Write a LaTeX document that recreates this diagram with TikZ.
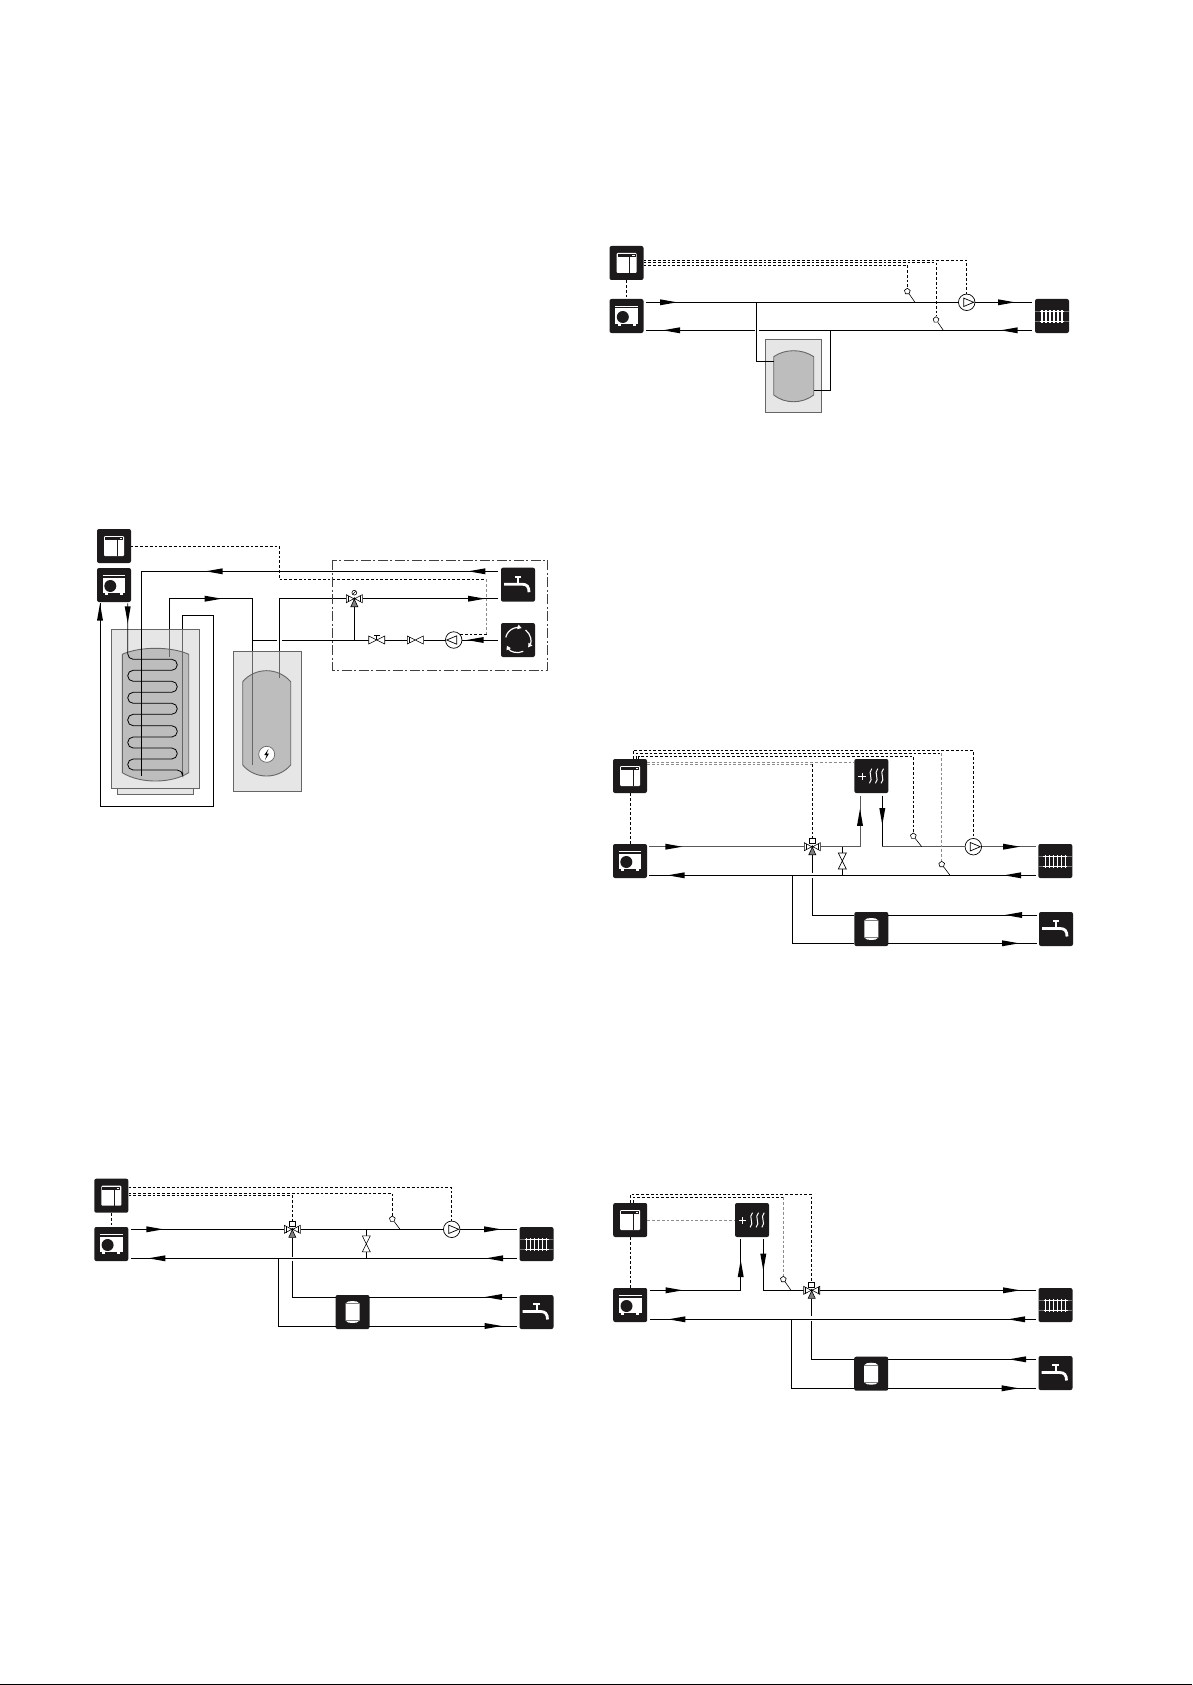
\documentclass[tikz,border=0pt]{standalone}
\usepackage{xcolor}
\usetikzlibrary{arrows.meta,decorations.markings,shapes.geometric}
\definecolor{boxblack}{HTML}{1C1A1B}
\definecolor{jacketgray}{HTML}{E6E6E6}
\definecolor{tankgray}{HTML}{BDBDBD}
\definecolor{edgegray}{HTML}{666666}
\tikzset{
  boxnode/.style={fill=boxblack,rounded corners=2pt,minimum size=34pt,inner sep=0pt},
  pumpnode/.style={circle,draw=black,fill=white,line width=.7pt,minimum size=16.5pt,inner sep=0pt},
  bulbnode/.style={regular polygon,regular polygon sides=5,draw=black,fill=white,line width=.6pt,minimum size=6pt,inner sep=0pt},
  valvenode/.style={minimum size=16pt,inner sep=0pt},
  pipe/.style={line width=.9pt,black},
  softpipe/.style={line width=.9pt,black!65},
  inpipe/.style={line width=.9pt,edgegray},
  stem/.style={line width=.6pt,black},
  ctrlwire/.style={line width=.7pt,black,dash pattern=on 2.8pt off 2pt},
  palewire/.style={line width=.7pt,black!45,dash pattern=on 2.8pt off 2pt},
  zone/.style={line width=.8pt,black!75,dash pattern=on 10pt off 2.5pt on 2pt off 2.5pt},
  jacket/.style={fill=jacketgray,draw=edgegray,line width=.7pt},
  tank/.style={fill=tankgray,draw=edgegray,line width=.9pt},
  valveline/.style={draw=black,fill=white,line width=.6pt},
  flow/.style={postaction={decorate,decoration={markings,mark=at position #1 with {
    \fill[black,sharp corners] (0pt,0pt) -- (-17pt,-3pt) -- (-17pt,3pt) -- cycle;}}}},
  ctrlicon/.pic={
    \fill[white,rounded corners=1pt] (-10,-10) rectangle (10,10);
    \fill[boxblack] (-9,-8.6) rectangle (9,-6);
    \fill[white] (5.5,-8) rectangle (8,-6.8);
    \draw[boxblack,line width=.8pt] (3.3,-6) -- (3.3,10);
  },
  hpicon/.pic={
    \fill[white] (-11.3,-7.5) rectangle (11.3,8.3);
    \draw[white,line width=.7pt] (-11.3,-9.7) -- (11.3,-9.7);
    \fill[white] (-9,8.3) rectangle (-6,10);
    \fill[white] (6,8.3) rectangle (9,10);
    \fill[boxblack] (-3.7,1) circle (6);
  },
  radicon/.pic={
    \draw[white,line width=.8pt] (-12,-5) -- (12,-5) (-12,5.5) -- (12,5.5);
    \foreach \bx in {-10,-6,-2,2,6,10}{\draw[white,line width=1.1pt] (\bx,-6) -- (\bx,6.5);}
    \draw[black!55,line width=.3pt] (12,-5) -- (17,-5) (12,5.5) -- (17,5.5) (-17,-5) -- (-12,-5) (-17,5.5) -- (-12,5.5);
  },
  tapicon/.pic={
    \draw[white,line width=2.8pt] (-14,-.5) -- (4,-.5) .. controls (9,-.5) and (11,2) .. (11,7.5);
    \draw[white,line width=2pt] (0,-7) -- (0,-1);
    \draw[white,line width=1.6pt] (-3.2,-8) -- (3.2,-8);
  },
  cylicon/.pic={
    \fill[white] (-7,-8.5) .. controls (-6,-10.5) and (-3,-11) .. (0,-11) .. controls (3,-11) and (6,-10.5) .. (7,-8.5)
      -- (7,8.5) .. controls (6,10.5) and (3,11) .. (0,11) .. controls (-3,11) and (-6,10.5) .. (-7,8.5) -- cycle;
    \draw[black!50,line width=.3pt] (-7,-8.5) -- (7,-8.5) (-7,8.5) -- (7,8.5);
  },
  heaticon/.pic={
    \draw[white,line width=1pt] (-13,.7) -- (-5.7,.7) (-9.3,-3) -- (-9.3,4.4);
    \foreach \sx in {-.7,5.3,11}{
      \draw[white,line width=1pt] (\sx+1.2,-7.3) .. controls (\sx-3.5,-3) and (\sx+3.5,3) .. (\sx-1.2,7.3);}
  },
  circicon/.pic={
    \draw[white,line width=1.2pt,-{Triangle[length=4pt,width=4.5pt]}] (192:12.5) arc (192:287:12.5);
    \draw[white,line width=1.2pt,-{Triangle[length=4pt,width=4.5pt]}] (307:12.5) arc (307:396:12.5);
    \draw[white,line width=1.2pt,-{Triangle[length=4pt,width=4.5pt]}] (65:12.5) arc (65:153:12.5);
  },
  pumpicon/.pic={\draw[black,line width=.7pt] (-3,-4.2) -- (7,0) -- (-3,4.2) -- cycle;},
  bowtie/.pic={\path[valveline] (0,0) -- (-8,-4) -- (-8,4) -- cycle (0,0) -- (8,-4) -- (8,4) -- cycle;},
  mixer/.pic={
    \path[valveline] (-.5,0) -- (-8,-4) -- (-8,4) -- cycle (.5,0) -- (8,-4) -- (8,4) -- cycle;
    \draw[black,line width=.5pt] (-6.3,-3.2) -- (-6.3,3.2) (6.3,-3.2) -- (6.3,3.2);
    \filldraw[draw=black,fill=gray,line width=.6pt] (0,.5) -- (-3.5,8) -- (3.5,8) -- cycle;
    \fill[black] (0,0) circle (1.5);
  },
  actuator/.pic={\path[valveline] (-3,-8) rectangle (3,-3.5);},
  dial/.pic={\path[valveline] (0,-6) circle (2.4); \draw[black,line width=.4pt] (-1.5,-4.5) -- (1.5,-7.5);}
}
\newcommand{\boxat}[3]{\node[boxnode] (#1) at (#2) {}; \pic at (#1) {#3};}
\begin{document}
\begin{tikzpicture}[x=1pt,y=-1pt]
\useasboundingbox (0,0) rectangle (1192,1685);
\fill[black] (0,1684) rectangle (1192,1685);

% buffer tank, top right
\boxat{ctrlA}{626.5,263}{ctrlicon}
\boxat{hpA}{626.5,316}{hpicon}
\boxat{radA}{1052,316}{radicon}
\node[pumpnode] (pumpA) at (966.7,302.3) {};
\node[bulbnode] (bulbA1) at (907.3,291.3) {};
\node[bulbnode] (bulbA2) at (936,319.7) {};
\coordinate (supA) at (646,302.3);
\coordinate (supEndA) at (1032,302.3);
\coordinate (retA) at (1032,330.3);
\coordinate (retEndA) at (646,330.3);
\coordinate (gapA1) at (759,330.3);
\coordinate (gapA2) at (755,330.3);
\coordinate (teeA1) at (756.3,302.3);
\coordinate (teeA2) at (830.3,330.3);
\coordinate (portA1) at (774,361.7);
\coordinate (portA2) at (814,390.3);
\coordinate (sensA1) at (915,302.3);
\coordinate (sensA2) at (943.3,330.3);
\coordinate (wireA1) at (643.5,260.3);
\coordinate (wireA2) at (643.5,262.3);
\coordinate (wireA3) at (643.5,265);
\draw[jacket] (765.7,339.3) rectangle (821.7,412.3);
\draw[tank] (773.7,356.7) .. controls (785,348.7) and (802,348.7) .. (813.7,356.7) -- (813.7,395)
  .. controls (802,404) and (785,404) .. (773.7,395) -- cycle;
\draw[pipe,flow=31pt] (supA) -- (pumpA);
\draw[pipe,flow=-17pt] (pumpA) -- (supEndA);
\draw[pipe,flow=31.3pt] (retA) -- (gapA1);
\draw[pipe,flow=-17pt] (gapA2) -- (retEndA);
\draw[pipe] (teeA1) |- (portA1);
\draw[pipe] (teeA2) |- (portA2);
\draw[stem] (bulbA1) -- (sensA1);
\draw[stem] (bulbA2) -- (sensA2);
\draw[ctrlwire] (ctrlA) -- (hpA);
\draw[ctrlwire] (wireA1) -| (pumpA.north);
\draw[ctrlwire] (wireA2) -| (bulbA2.north);
\draw[ctrlwire] (wireA3) -| (bulbA1.north);
\pic at (pumpA) {pumpicon};

% coil tank and water heater, left
\boxat{ctrlB}{114,546}{ctrlicon}
\boxat{hpB}{114,585}{hpicon}
\boxat{tapB}{518,584.7}{tapicon}
\boxat{circB}{518,640}{circicon}
\node[pumpnode] (pumpB) at (453.7,640) {};
\node[valvenode] (mixB) at (354.3,598.7) {};
\node[valvenode] (ballB) at (376.7,640) {};
\node[valvenode] (checkB) at (415.3,640) {};
\coordinate (coldB) at (498,571.3);
\coordinate (coldEndB) at (141.7,776);
\coordinate (hotB1) at (169.3,629.3);
\coordinate (hotB2) at (169.3,656.7);
\coordinate (hotB3) at (252.3,651);
\coordinate (hotB4) at (252.3,765);
\coordinate (warmB1) at (279.3,651);
\coordinate (warmB2) at (279.3,678.3);
\coordinate (warmEndB) at (498,598.7);
\coordinate (circInB) at (498,640);
\coordinate (gapB1) at (282,640);
\coordinate (gapB2) at (276.7,640);
\coordinate (teeB1) at (252.3,640);
\coordinate (teeB2) at (354.3,640);
\coordinate (loopB1) at (182.7,629.3);
\coordinate (loopB2) at (182.7,772);
\coordinate (loopB3) at (213.3,806);
\coordinate (loopEndB) at (100,603.3);
\coordinate (coilB) at (127.7,603.3);
\coordinate (wireB1) at (130.5,546);
\coordinate (wireB2) at (279.3,579.3);
\coordinate (wireB3) at (486.7,579.3);
\coordinate (wireB4) at (486.7,634.3);
\coordinate (wireB5) at (460,634.3);
\draw[jacket] (117.3,788.7) rectangle (193.7,794.3);
\draw[jacket] (111.7,629.3) rectangle (199.3,788.7);
\draw[tank] (122.3,654.3) .. controls (140,646.3) and (171,646.3) .. (188.7,654.3) -- (188.7,772.7)
  .. controls (171,783.8) and (140,783.8) .. (122.3,772.7) -- cycle;
\draw[jacket] (233,651) rectangle (301.3,791.7);
\draw[tank] (242.7,681.7) .. controls (255,667) and (278,667) .. (290.7,681.7) -- (290.7,765)
  .. controls (278,779.7) and (255,779.7) .. (242.7,765) -- cycle;
\draw[inpipe] (hotB1) -- (hotB2);
\draw[inpipe] (hotB3) -- (hotB4);
\draw[inpipe] (warmB1) -- (warmB2);
\draw[inpipe,line width=1.2pt] (loopB1) -- (loopB2);
\draw[pipe,flow=29.7pt,flow=292.3pt] (coldB) -| (coldEndB);
\draw[pipe,flow=83pt] (hotB1) |- (219,598.7) -| (hotB3);
\draw[pipe] (warmB1) |- (mixB.west);
\draw[pipe,flow=-13pt] (mixB.east) -- (warmEndB);
\draw[pipe,flow=31.3pt] (circInB) -- (pumpB);
\draw[pipe] (pumpB) -- (checkB.east);
\draw[pipe] (checkB.west) -- (ballB.east);
\draw[pipe] (ballB.west) -- (gapB1);
\draw[pipe] (gapB2) -- (teeB1);
\draw[pipe] (mixB.south) -- (teeB2);
\draw[pipe,flow=-.3pt] (loopB1) |- (loopB3 |- 0,615.7) -- (loopB3) -- (loopEndB |- loopB3) -- (loopEndB);
\draw[pipe,flow=20pt,line width=.8pt,rounded corners=5.5pt] (coilB) -- (127.7,659.3)
  -- (177.3,659.3) -- (177.3,670.3) -- (127.7,670.3) -- (127.7,681.3)
  -- (177.3,681.3) -- (177.3,692.3) -- (127.7,692.3) -- (127.7,703.3)
  -- (177.3,703.3) -- (177.3,714.3) -- (127.7,714.3) -- (127.7,725.7)
  -- (177.3,725.7) -- (177.3,737) -- (127.7,737) -- (127.7,748)
  -- (177.3,748) -- (177.3,759) -- (127.7,759) -- (127.7,770) -- (182.7,770) -- (loopB2);
\draw[ctrlwire] (wireB1) -| (wireB2) -- (wireB3);
\draw[palewire] (wireB3) -- (wireB4);
\draw[ctrlwire] (wireB4) -- (wireB5);
\draw[zone] (332.7,560) rectangle (547.7,670);
\pic at (pumpB) [xscale=-1] {pumpicon};
\pic at (ballB) {bowtie};
\draw[stem] (ballB.center) -- (376.7,635) (373.7,635) -- (379.7,635);
\pic at (checkB) {bowtie};
\draw[stem] (408.8,636.8) -- (408.8,643.2);
\pic at (mixB) {mixer};
\pic at (mixB) {dial};
\node[circle,draw=edgegray,fill=white,line width=.7pt,minimum size=16pt,inner sep=0pt] (heatB) at (266.7,754.3) {};
\fill[black] (268.5,749) -- (264.3,755) -- (266.7,755) -- (265,760) -- (269,753.5) -- (266.7,753.5) -- cycle;

% mixing valve, bottom left
\boxat{ctrlC}{111.3,1195.7}{ctrlicon}
\boxat{hpC}{111.3,1244}{hpicon}
\boxat{radC}{536.5,1244}{radicon}
\boxat{cylC}{352.5,1312}{cylicon}
\boxat{tapC}{536.5,1312}{tapicon}
\node[pumpnode] (pumpC) at (451.7,1229.3) {};
\node[valvenode] (mixC) at (292.3,1229.3) {};
\node[valvenode] (byC) at (366.3,1243.8) {};
\node[bulbnode] (bulbC) at (392.3,1219) {};
\coordinate (supC) at (131,1229.3);
\coordinate (supEndC) at (517,1229.3);
\coordinate (retC) at (517,1258.3);
\coordinate (retEndC) at (131,1258.3);
\coordinate (sensC) at (400,1229.3);
\coordinate (teeC) at (278.3,1258.3);
\coordinate (gapC1) at (292.3,1256.5);
\coordinate (gapC2) at (292.3,1260.7);
\coordinate (cylUpC) at (335.7,1297);
\coordinate (cylLoC) at (335.7,1326);
\coordinate (cylUpOutC) at (369.3,1297);
\coordinate (cylLoOutC) at (369.3,1326);
\coordinate (tapUpC) at (517,1297);
\coordinate (tapLoC) at (517,1326);
\coordinate (wireC1) at (128.5,1187.3);
\coordinate (wireC2) at (128.5,1193.3);
\coordinate (wireC3) at (128.5,1195.7);
\draw[pipe,flow=32.3pt] (supC) -- (mixC.west);
\draw[pipe] (mixC.east) -- (sensC) -- (pumpC);
\draw[pipe,flow=-16pt] (pumpC) -- (supEndC);
\draw[pipe,flow=31pt,flow=-17.3pt] (retC) -- (retEndC);
\draw[pipe] (byC.north) -- (byC.north |- supC);
\draw[pipe] (byC.south) -- (byC.south |- retC);
\draw[pipe] (mixC.south) -- (gapC1);
\draw[pipe] (gapC2) |- (cylUpC);
\draw[pipe] (teeC) |- (cylLoC);
\draw[pipe,flow=32pt] (tapUpC) -- (cylUpOutC);
\draw[pipe,flow=-15.3pt] (cylLoOutC) -- (tapLoC);
\draw[stem] (bulbC) -- (sensC);
\draw[ctrlwire] (ctrlC) -- (hpC);
\draw[ctrlwire] (wireC1) -| (pumpC.north);
\draw[ctrlwire] (wireC2) -| (bulbC.north);
\draw[ctrlwire] (wireC3) -| (mixC.north);
\pic at (pumpC) {pumpicon};
\pic at (byC) [rotate=90] {bowtie};
\pic at (mixC) {mixer};
\pic at (mixC) {actuator};

% heater and mixing valve, middle right
\boxat{ctrlD}{630,776}{ctrlicon}
\boxat{heatD}{871.3,776}{heaticon}
\boxat{hpD}{630,861}{hpicon}
\boxat{radD}{1055.3,861}{radicon}
\boxat{cylD}{871.3,929}{cylicon}
\boxat{tapD}{1056,929}{tapicon}
\node[pumpnode] (pumpD) at (973.3,846.7) {};
\node[valvenode] (mixD) at (812.3,846.7) {};
\node[valvenode] (byD) at (842.3,861) {};
\node[bulbnode] (bulbD1) at (913.3,836) {};
\node[bulbnode] (bulbD2) at (941.7,864.3) {};
\coordinate (supD) at (649.3,846.7);
\coordinate (supEndD) at (1036,846.7);
\coordinate (retD) at (1036,875.3);
\coordinate (retEndD) at (649.3,875.3);
\coordinate (riseD) at (860,795.7);
\coordinate (fallD) at (882.3,795.7);
\coordinate (sensD1) at (921.7,846.7);
\coordinate (sensD2) at (950,875.3);
\coordinate (teeD) at (792.3,875.3);
\coordinate (gapD1) at (812.3,872.7);
\coordinate (gapD2) at (812.3,878.3);
\coordinate (cylUpD) at (854.3,915);
\coordinate (cylLoD) at (854.3,943.3);
\coordinate (cylUpOutD) at (888.3,915);
\coordinate (cylLoOutD) at (888.3,943.3);
\coordinate (tapUpD) at (1037,915);
\coordinate (tapLoD) at (1037,943.3);
\coordinate (wireD1) at (633.3,759);
\coordinate (wireD2) at (636,759);
\coordinate (wireD3) at (638.7,759);
\coordinate (wireD4) at (647,762.3);
\coordinate (wireD5) at (647,764.3);
\coordinate (cornerD) at (941.7,753.3);
\draw[softpipe,flow=33pt] (supD) -- (mixD.west);
\draw[softpipe,flow=77.4pt] (mixD.east) -| (riseD);
\draw[pipe,flow=29.3pt] (fallD) -- (fallD |- supD);
\draw[softpipe] (fallD |- supD) -- (sensD1) -- (pumpD);
\draw[softpipe,flow=-16pt] (pumpD) -- (supEndD);
\draw[pipe,flow=32pt,flow=-18.4pt] (retD) -- (retEndD);
\draw[pipe] (byD.north) -- (byD.north |- supD);
\draw[pipe] (byD.south) -- (byD.south |- retD);
\draw[pipe] (mixD.south) -- (gapD1);
\draw[pipe] (gapD2) |- (cylUpD);
\draw[pipe] (teeD) |- (cylLoD);
\draw[pipe,flow=32pt] (tapUpD) -- (cylUpOutD);
\draw[pipe,flow=-18pt] (cylLoOutD) -- (tapLoD);
\draw[stem] (bulbD1) -- (sensD1);
\draw[stem] (bulbD2) -- (sensD2);
\draw[ctrlwire] (ctrlD) -- (hpD);
\draw[ctrlwire] (wireD1) |- (973.3,750.3) -- (pumpD.north);
\draw[ctrlwire] (wireD2) |- (cornerD);
\draw[palewire] (cornerD) -- (bulbD2.north);
\draw[ctrlwire] (wireD3) |- (913.3,756.3) -- (bulbD1.north);
\draw[palewire] (wireD4) -- (wireD4 -| heatD.west);
\draw[palewire] (wireD5) -- (wireD5 -| mixD.north);
\draw[ctrlwire] (wireD5 -| mixD.north) -- (mixD.north);
\pic at (pumpD) {pumpicon};
\pic at (byD) [rotate=90] {bowtie};
\pic at (mixD) {mixer};
\pic at (mixD) {actuator};

% heater before the valve, bottom right
\boxat{ctrlE}{630.2,1220}{ctrlicon}
\boxat{heatE}{752,1220}{heaticon}
\boxat{hpE}{630.2,1305}{hpicon}
\boxat{radE}{1055.5,1305}{radicon}
\boxat{cylE}{871.2,1373.7}{cylicon}
\boxat{tapE}{1055.5,1373}{tapicon}
\node[valvenode] (mixE) at (811.7,1290.3) {};
\node[bulbnode] (bulbE) at (783.3,1279.3) {};
\coordinate (supE) at (649.7,1290.3);
\coordinate (riseE) at (740.7,1239.3);
\coordinate (fallE) at (763.3,1239.3);
\coordinate (supEndE) at (1036,1290.3);
\coordinate (retE) at (1036,1319.3);
\coordinate (retEndE) at (649.7,1319.3);
\coordinate (sensE) at (791,1290.3);
\coordinate (teeE) at (791.3,1319.3);
\coordinate (gapE1) at (811.7,1316);
\coordinate (gapE2) at (811.7,1321.3);
\coordinate (cylUpE) at (854.3,1359.3);
\coordinate (cylLoE) at (854.3,1388.3);
\coordinate (cylUpOutE) at (888,1359.3);
\coordinate (cylLoOutE) at (888,1388.3);
\coordinate (tapUpE) at (1036,1359.3);
\coordinate (tapLoE) at (1036,1388.3);
\coordinate (wireE1) at (630.7,1203);
\coordinate (wireE2) at (633.3,1203);
\coordinate (cornerE) at (783.3,1197.3);
\draw[pipe,flow=33pt,flow=121.3pt] (supE) -| (riseE);
\draw[pipe,flow=31.4pt] (fallE) |- (mixE.west);
\draw[pipe,flow=-16pt] (mixE.east) -- (supEndE);
\draw[pipe,flow=28pt,flow=-18.6pt] (retE) -- (retEndE);
\draw[pipe] (mixE.south) -- (gapE1);
\draw[pipe] (gapE2) |- (cylUpE);
\draw[pipe] (teeE) |- (cylLoE);
\draw[pipe,flow=27pt] (tapUpE) -- (cylUpOutE);
\draw[pipe,flow=-17.3pt] (cylLoOutE) -- (tapLoE);
\draw[stem] (bulbE) -- (sensE);
\draw[ctrlwire] (ctrlE) -- (hpE);
\draw[ctrlwire] (wireE1) |- (811.7,1194.3) -- (mixE.north);
\draw[ctrlwire] (wireE2) |- (cornerE);
\draw[palewire] (cornerE) -- (bulbE.north);
\draw[palewire] (ctrlE) -- (heatE);
\pic at (mixE) {mixer};
\pic at (mixE) {actuator};
\end{tikzpicture}
\end{document}
